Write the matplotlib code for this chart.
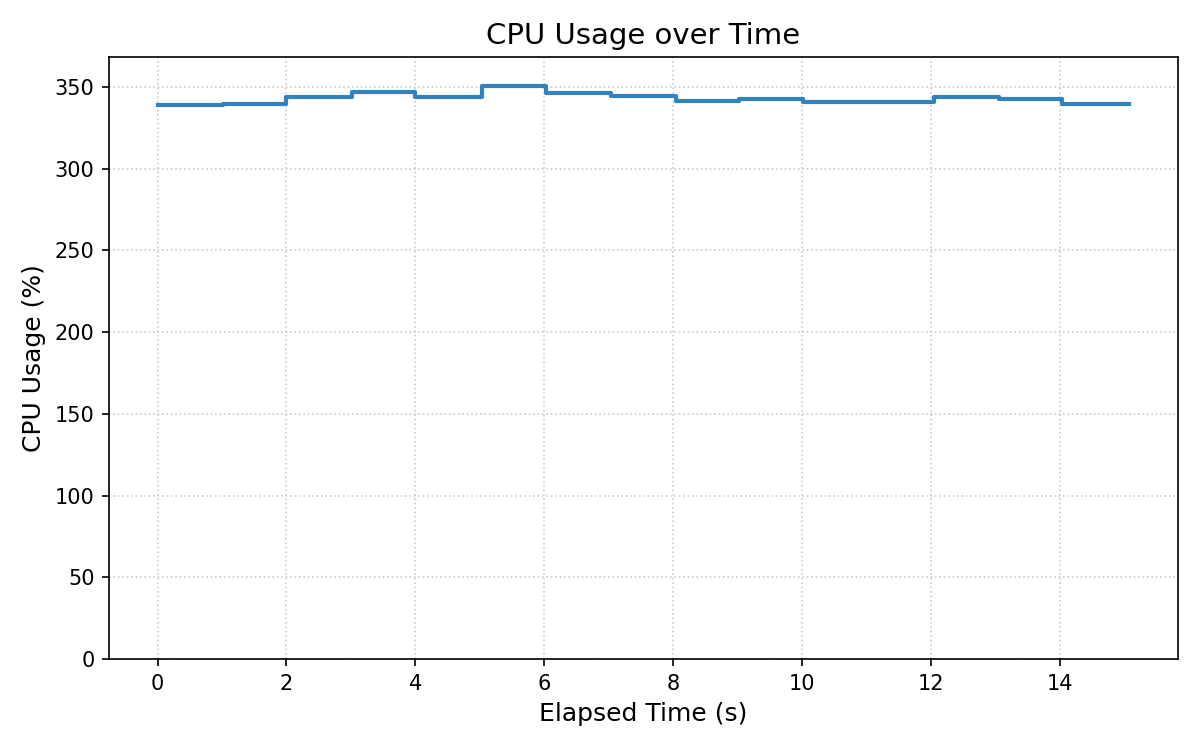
import matplotlib
matplotlib.use("Agg")
import matplotlib.pyplot as plt

elapsed_s = [0.0, 1.01, 2.0, 3.02, 4.0, 5.04, 6.03, 7.04, 8.05, 9.02,
             10.02, 11.03, 12.05, 13.05, 14.03, 15.08]
cpu_pct = [339.0, 339.8, 344.1, 347.1, 344.1, 350.8, 346.5, 344.7, 341.6, 342.8,
           340.8, 340.8, 343.7, 342.6, 339.8, 339.8]

fig, ax = plt.subplots(figsize=(8, 5), dpi=150)
fig.subplots_adjust(left=0.0908, right=0.9817, bottom=0.1213, top=0.924)

ax.step(elapsed_s, cpu_pct, where="post", color="#3182bd", linewidth=2)
ax.set_ylim(0, max(cpu_pct) * 1.05)

ax.grid(True, linestyle=":", color="#cccccc", linewidth=0.8)
ax.set_axisbelow(True)

ax.set_title("CPU Usage over Time", fontsize=14)
ax.set_xlabel("Elapsed Time (s)", fontsize=12)
ax.set_ylabel("CPU Usage (%)", fontsize=12)
ax.tick_params(labelsize=10)

fig.savefig("out.png", dpi=150)
